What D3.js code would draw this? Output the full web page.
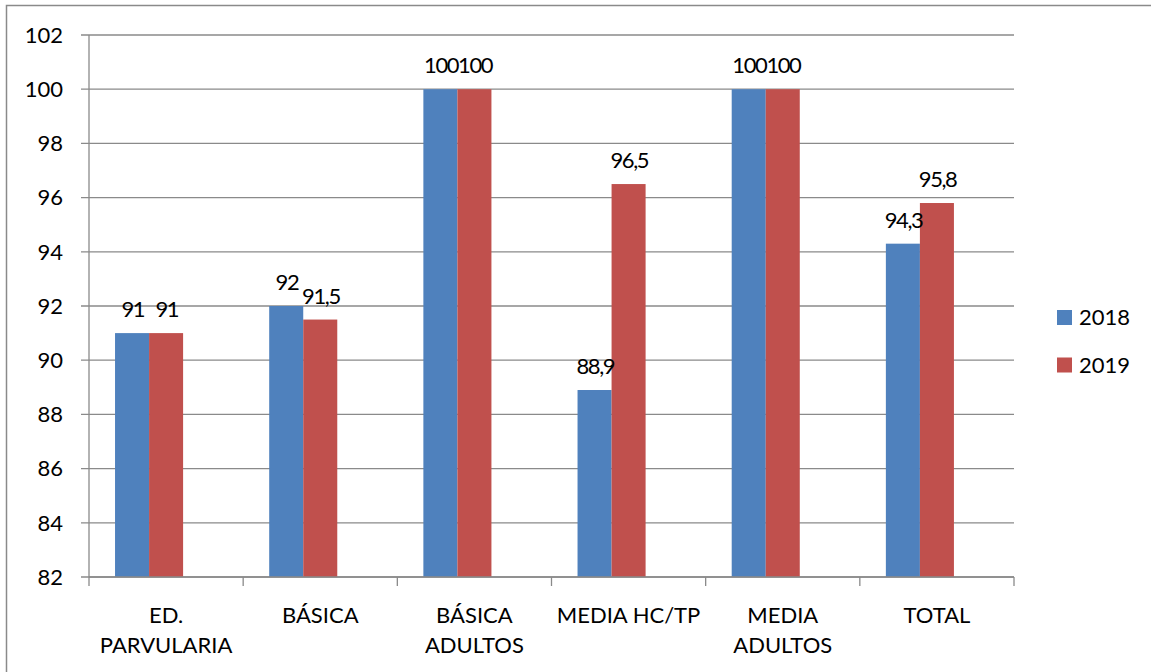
<!DOCTYPE html>
<html><head><meta charset="utf-8">
<script src="https://cdn.jsdelivr.net/npm/d3@7"></script>
<style>
body{margin:0;background:#fff;}
svg{display:block;font-family:Lato,"Liberation Sans",sans-serif;}
</style></head>
<body><svg id="c" width="1151" height="672"></svg>
<script>
const categories = ["ED.\nPARVULARIA", "BÁSICA", "BÁSICA\nADULTOS", "MEDIA HC/TP", "MEDIA\nADULTOS", "TOTAL"];
const seriesNames = ["2018", "2019"];
const values2018 = [91, 92, 100, 88.9, 100, 94.3];
const values2019 = [91, 91.5, 100, 96.5, 100, 95.8];
const yTicks = [82, 84, 86, 88, 90, 92, 94, 96, 98, 100, 102];
const colors = ["#4F81BD", "#C0504D"];

const series = [values2018, values2019];
const svg = d3.select("#c");
const fs = 22;
const gridColor = "#8a8a8a";

// outer frame
svg.append("rect").attr("x",6.5).attr("y",5.5).attr("width",1160).attr("height",680)
  .attr("fill","none").attr("stroke","#8a8a8a").attr("stroke-width",1.5);

const x = d3.scaleBand().domain(categories).range([89, 1014]).paddingInner(0).paddingOuter(0);
const xs = d3.scaleBand().domain(["2018","2019","_"]).range([0, x.bandwidth()]).paddingInner(0).paddingOuter(0.765);
const y = d3.scaleLinear().domain([82, 102]).range([577, 35]);

// gridlines
svg.append("g").selectAll("line").data(yTicks).join("line")
  .attr("x1", 81).attr("x2", 1014)
  .attr("y1", d => y(d)).attr("y2", d => y(d))
  .attr("stroke", gridColor).attr("stroke-width", 1.3);

// y axis line
svg.append("line").attr("x1",89).attr("x2",89).attr("y1",y(102)).attr("y2",y(82))
  .attr("stroke",gridColor).attr("stroke-width",1.3);

// y tick labels
svg.append("g").selectAll("text").data(yTicks).join("text")
  .attr("x", 63).attr("y", d => y(d)).attr("dy", "0.35em")
  .attr("text-anchor","end").attr("font-size", fs).attr("fill","#000")
  .text(d => d);

// bars
seriesNames.forEach((s, si) => {
  const g = svg.append("g");
  g.selectAll("rect").data(series[si]).join("rect")
    .attr("x", (d,i) => x(categories[i]) + xs(s))
    .attr("width", xs.bandwidth())
    .attr("y", d => y(d))
    .attr("height", d => y(82) - y(d))
    .attr("fill", colors[si]);
});

// x axis line and ticks
svg.append("line").attr("x1",89).attr("x2",1014).attr("y1",y(82)).attr("y2",y(82))
  .attr("stroke",gridColor).attr("stroke-width",1.3);
const bounds = categories.map(c => x(c)).concat([x(categories[categories.length-1]) + x.bandwidth()]);
svg.append("g").selectAll("line").data(bounds).join("line")
  .attr("x1", d => d).attr("x2", d => d).attr("y1", y(82)).attr("y2", y(82) + 9)
  .attr("stroke", gridColor).attr("stroke-width", 1.3);

// data labels
const fmt = v => String(v).replace(".", ",");
seriesNames.forEach((s, si) => {
  svg.append("g").selectAll("text").data(series[si]).join("text")
    .attr("x", (d,i) => x(categories[i]) + xs(s) + xs.bandwidth()/2 + 0.7)
    .attr("y", d => y(d) - 16)
    .attr("text-anchor","middle").attr("font-size", fs).attr("fill","#000")
    .attr("letter-spacing", -1.4)
    .text(d => fmt(d));
});

// category labels
const cl = svg.append("g").selectAll("text").data(categories).join("text")
  .attr("x", d => x(d) + x.bandwidth()/2)
  .attr("y", 623)
  .attr("text-anchor","middle").attr("font-size", fs).attr("fill","#000");
cl.each(function(d){
  const t = d3.select(this);
  d.split("\n").forEach((line, li) => {
    t.append("tspan").attr("x", x(d) + x.bandwidth()/2).attr("y", 623 + li*30).text(line);
  });
});

// legend
const lg = svg.append("g");
seriesNames.forEach((s, si) => {
  const cy = 317.5 + si*47.5;
  lg.append("rect").attr("x",1057).attr("y",cy-7.5).attr("width",15).attr("height",15).attr("fill",colors[si]);
  lg.append("text").attr("x",1079).attr("y",cy).attr("dy","0.35em").attr("font-size",fs).attr("fill","#000").text(s);
});
</script></body></html>
